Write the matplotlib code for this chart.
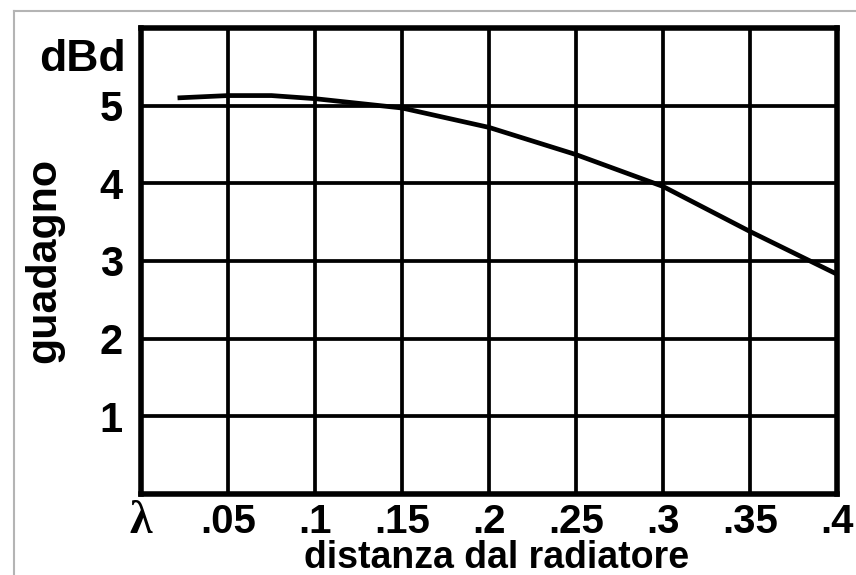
import matplotlib
matplotlib.use("Agg")
import matplotlib.pyplot as plt
from matplotlib.lines import Line2D

# distanza dal radiatore (lambda) vs guadagno (dBd)
distanza = [0.021, 0.05, 0.075, 0.10, 0.125, 0.15, 0.20, 0.25, 0.30, 0.35, 0.40]
guadagno = [5.10, 5.13, 5.13, 5.09, 5.03, 4.97, 4.72, 4.37, 3.96, 3.38, 2.83]

x_ticks = [0, 0.05, 0.10, 0.15, 0.20, 0.25, 0.30, 0.35, 0.40]
x_labels = ["λ", ".05", ".1", ".15", ".2", ".25", ".3", ".35", ".4"]
y_ticks = [1, 2, 3, 4, 5]
y_labels = ["1", "2", "3", "4", "5"]

plt.rcParams['font.family'] = ['Liberation Sans', 'DejaVu Sans']
plt.rcParams['font.weight'] = 'bold'

W, H = 856, 575
fig = plt.figure(figsize=(W / 100, H / 100), dpi=100)
fig.patch.set_facecolor('white')

# cornice grigia esterna
fig.add_artist(Line2D([14 / W, 1], [1 - 11 / H, 1 - 11 / H], color='#b4b4b4', lw=1.5))
fig.add_artist(Line2D([14 / W, 14 / W], [0, 1 - 11 / H], color='#b4b4b4', lw=1.5))

ax = fig.add_axes([141 / W, 81 / H, 696 / W, 466 / H])
ax.set_xlim(0, 0.4)
ax.set_ylim(0, 6)

ax.set_xticks(x_ticks)
ax.set_xticklabels(x_labels, fontsize=29, fontweight='bold')
ax.set_yticks(y_ticks)
ax.set_yticklabels(y_labels, fontsize=30, fontweight='bold')
ax.set_yticks([6], minor=True)
ax.tick_params(axis='both', which='both', length=0)
ax.tick_params(axis='x', pad=28)
ax.tick_params(axis='y', pad=13)
for lab in ax.get_xticklabels():
    lab.set_verticalalignment('baseline')
ax.get_xticklabels()[0].set_fontfamily(['Liberation Serif', 'DejaVu Serif'])
ax.get_xticklabels()[0].set_fontsize(33)

ax.grid(True, which='both', color='black', lw=2.7)
ax.set_axisbelow(True)
for s in ax.spines.values():
    s.set_linewidth(4)
    s.set_color('black')

ax.plot(distanza, guadagno, color='black', lw=3.4, solid_capstyle='butt', clip_on=False, zorder=3)

ax.set_xlabel("distanza dal radiatore", fontsize=27, fontweight='bold', va='baseline')
ax.xaxis.set_label_coords((497 - 141) / 696, (494 - 568) / 466)
ax.set_ylabel("guadagno", fontsize=31, fontweight='bold')
ax.yaxis.set_label_coords((64 - 141) / 696, (494 - 260) / 466)

fig.text(126 / W, 1 - 71 / H, "dBd", fontsize=32, fontweight='bold', ha='right', va='baseline')

fig.savefig("out.png", dpi=100, facecolor='white')
